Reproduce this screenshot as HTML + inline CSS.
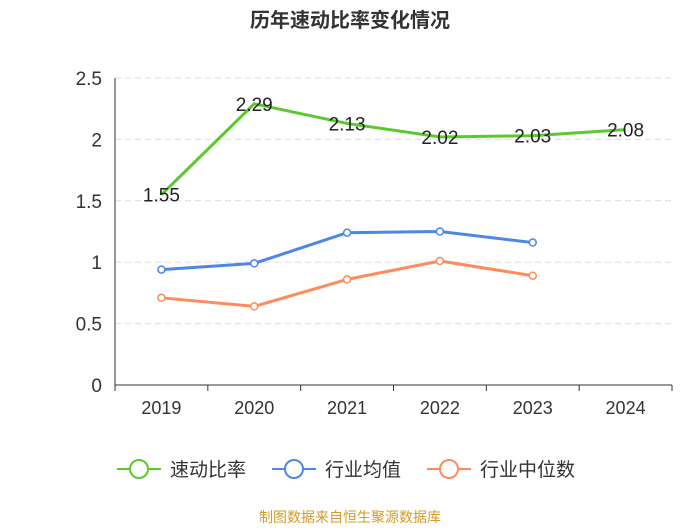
<!DOCTYPE html>
<html><head><meta charset="utf-8"><style>
body{margin:0;background:#fff;}
svg text{font-family:"Liberation Sans","Noto Sans CJK SC",sans-serif;}
</style></head><body>
<svg id="c" width="700" height="525" xmlns="http://www.w3.org/2000/svg">
<text x="350" y="27" text-anchor="middle" font-size="20" font-weight="bold" fill="#333">历年速动比率变化情况</text>
<g id="grid"></g><g id="axes"></g><g id="series"></g>
<g id="legend"></g>
<text x="350" y="522" text-anchor="middle" font-size="14" fill="#d49a2a">制图数据来自恒生聚源数据库</text>
</svg>
<script>
const categories=["2019","2020","2021","2022","2023","2024"];
const quickRatio=[1.55,2.29,2.13,2.02,2.03,2.08];
const industryAvg=[0.94,0.99,1.24,1.25,1.16];
const industryMedian=[0.71,0.64,0.86,1.01,0.89];
const yTicks=[0,0.5,1,1.5,2,2.5];
const yTickLabels=["0","0.5","1","1.5","2","2.5"];
const seriesNames=["速动比率","行业均值","行业中位数"];
const NS="http://www.w3.org/2000/svg";
const x0=115,x1=672,yB=385,yT=78,yMax=2.5;
const bw=(x1-x0)/categories.length;
const X=i=>x0+bw*(i+0.5);
const Y=v=>yB-(v/yMax)*(yB-yT);
function mk(tag,attrs,parent){const e=document.createElementNS(NS,tag);for(const k in attrs)e.setAttribute(k,attrs[k]);parent.appendChild(e);return e;}
const grid=document.getElementById('grid'),axes=document.getElementById('axes'),ser=document.getElementById('series'),leg=document.getElementById('legend');
yTicks.forEach((t,i)=>{
 if(t>0){const l=mk('line',{x1:x0,x2:x1,y1:Y(t),y2:Y(t),stroke:'#ddd','stroke-dasharray':'6,4'},grid);
 }
 const tx=mk('text',{x:x0-13,y:Y(t)+7,'text-anchor':'end','font-size':19,fill:'#333'},axes);tx.textContent=yTickLabels[i];
 
});
const ya=mk('line',{x1:x0,x2:x0,y1:yT,y2:yB,stroke:'#333'},axes);

const xa=mk('line',{x1:x0,x2:x1,y1:yB,y2:yB,stroke:'#333'},axes);

for(let i=0;i<=categories.length;i++){const tk=mk('line',{x1:x0+bw*i,x2:x0+bw*i,y1:yB,y2:yB+6,stroke:'#333'},axes);
 }
categories.forEach((c,i)=>{const t=mk('text',{x:X(i),y:yB+29,'text-anchor':'middle','font-size':18,fill:'#333'},axes);t.textContent=c;
 });
function line(vals,color,name,markers){
 const pts=vals.map((v,i)=>X(i)+','+Y(v)).join(' ');
 const p=mk('polyline',{points:pts,fill:'none',stroke:color,'stroke-width':3,'stroke-linejoin':'round'},ser);
 
 if(markers)vals.forEach((v,i)=>{const c=mk('circle',{cx:X(i),cy:Y(v),r:3.5,fill:'#fff',stroke:color,'stroke-width':1.5},ser);
  });
}
line(industryMedian,'#fc8c5c','industry-median',true);
line(industryAvg,'#4e86e8','industry-avg',true);
line(quickRatio,'#5bc82c','quick-ratio',false);
quickRatio.forEach((v,i)=>{const t=mk('text',{x:X(i),y:Y(v)+7,'text-anchor':'middle','font-size':19,fill:'#222'},ser);t.textContent=v.toFixed(2);
 });
const colors=['#5bc82c','#4e86e8','#fc8c5c'];const lx=[117,272,427];
seriesNames.forEach((n,i)=>{const g=mk('g',{},leg);
 mk('line',{x1:lx[i],x2:lx[i]+44,y1:469,y2:469,stroke:colors[i],'stroke-width':2},g);
 mk('circle',{cx:lx[i]+22,cy:469,r:9,fill:'#fff',stroke:colors[i],'stroke-width':2},g);
 const t=mk('text',{x:lx[i]+53,y:476,'font-size':19,fill:'#333'},g);t.textContent=n;});
</script>
</body></html>
